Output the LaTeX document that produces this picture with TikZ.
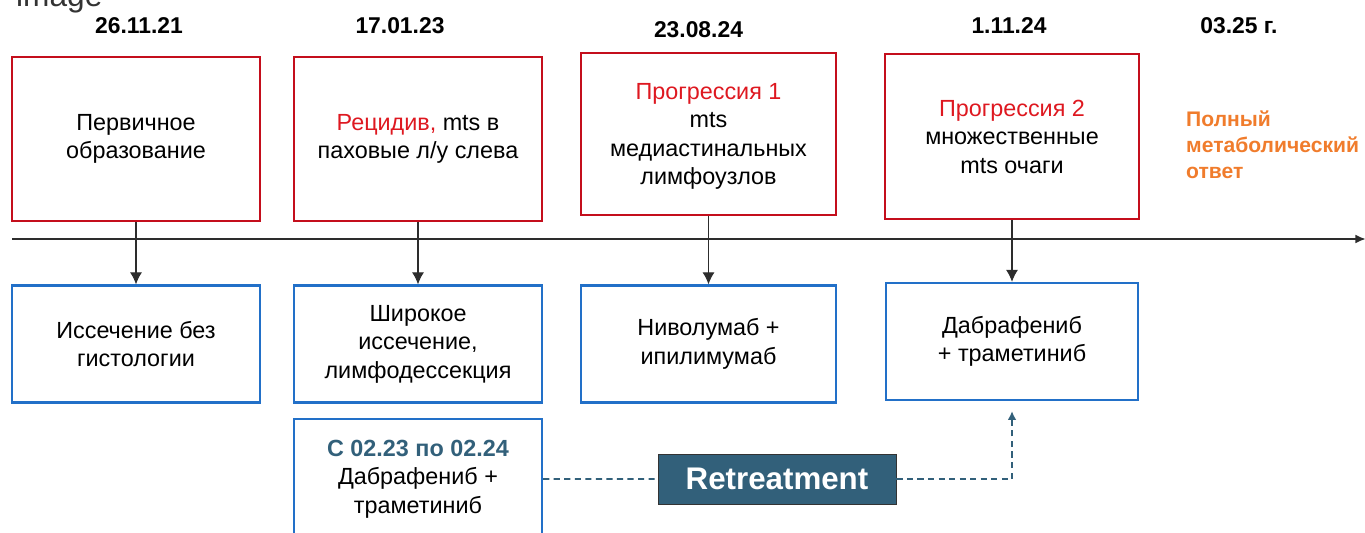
\documentclass[tikz,border=0pt]{standalone}
\usepackage{fontspec}
\setmainfont{Liberation Sans}
\usepackage{tikz}
\usetikzlibrary{shapes.geometric, arrows, arrows.meta}
\definecolor{boxred}{RGB}{196,14,28}
\definecolor{txtred}{RGB}{222,24,32}
\definecolor{boxblue}{RGB}{34,112,200}
\definecolor{retblue}{RGB}{50,96,122}
\definecolor{respond}{RGB}{240,124,44}
\definecolor{lineg}{RGB}{45,45,45}
\tikzstyle{event} = [rectangle, minimum width=4.96cm, minimum height=3.28cm, text centered, align=center, draw=boxred, line width=1.4pt, font=\fontsize{13.3}{16.2}\selectfont]
\tikzstyle{therapy} = [rectangle, minimum width=4.96cm, minimum height=2.34cm, text centered, align=center, draw=boxblue, line width=1.3pt, font=\fontsize{13.3}{16.2}\selectfont]
\tikzstyle{date} = [font=\bfseries\fontsize{13}{15}\selectfont]
\tikzstyle{retreat} = [rectangle, minimum width=4.76cm, minimum height=1cm, text centered, draw=black!80, fill=retblue, text=white, font=\bfseries\fontsize{17.8}{20}\selectfont]
\tikzstyle{arrow} = [-{Latex[length=6.8pt,width=6.8pt]}, draw=lineg, line width=0.6pt]
\tikzstyle{timeline} = [-{Latex[length=6pt,width=5pt]}, line width=1.4pt, draw=lineg]
\tikzstyle{dasharrow} = [retblue, line width=1pt, dash pattern=on 3.5pt off 2.5pt]

\begin{document}
\begin{tikzpicture}[node distance=4.1cm]

  \useasboundingbox (0,0) rectangle (27.3,-10.66);
  \node (img) [anchor=base west, text=black!80, font=\fontsize{18}{20}\selectfont] at (0.2,-0.14) {image};

  \node (d1) [date] at (2.78,-0.52) {26.11.21};
  \node (d2) [date] at (8.0,-0.52) {17.01.23};
  \node (d3) [date] at (13.97,-0.59) {23.08.24};
  \node (d4) [date] at (20.18,-0.52) {1.11.24};
  \node (d5) [date] at (24.78,-0.52) {03.25 г.};

  \node (r1) [event] at (2.72,-2.78) {Первичное\\образование};
  \node (r2) [event] at (8.36,-2.78) {\textcolor{txtred}{Рецидив,} mts в\\паховые л/у слева};
  \node (r3) [event, minimum width=5.1cm, minimum height=3.24cm, text depth=-0.2cm] at (14.17,-2.68) {\textcolor{txtred}{Прогрессия 1}\\mts\\медиастинальных\\лимфоузлов};
  \node (r4) [event, minimum width=5.08cm, minimum height=3.3cm] at (20.24,-2.73) {\textcolor{txtred}{Прогрессия 2}\\множественные\\mts очаги};
  \node (resp) [anchor=west, align=left, text=respond, font=\bfseries\fontsize{12}{14.8}\selectfont] at (23.6,-2.9) {Полный\\метаболический\\ответ};

  \node (b1) [therapy, below of=r1] {Иссечение без\\гистологии};
  \node (b2) [therapy, below of=r2] {Широкое\\иссечение,\\лимфодессекция};
  \node (b3) [therapy, below of=r3, minimum width=5.1cm, yshift=-0.1cm] {Ниволумаб +\\ипилимумаб};
  \node (b4) [therapy, below of=r4, minimum width=5.04cm] {Дабрафениб\\+ траметиниб};
  \node (b5) [therapy, below of=b2, node distance=2.7cm, minimum height=2.4cm] {\textcolor{retblue}{\bfseries С 02.23 по 02.24}\\Дабрафениб +\\траметиниб};
  \node (retreat) [retreat] at (15.54,-9.58) {Retreatment};

  \coordinate (tl0) at (0.24,-4.78);
  \coordinate (tl1) at (27.32,-4.78);
  \draw [timeline] (tl0) -- (tl1);

  \draw [arrow] (r1) -- (b1);
  \draw [arrow] (r2) -- (b2);
  \draw [arrow] (r3.south) -- (r3.south |- b3.north);
  \draw [arrow] (r4) -- (b4);
  \draw [dasharrow] (b5) -- (retreat);
  \draw [dasharrow, -{Latex[length=5pt,width=5pt]}, shorten >=0.2cm] (retreat.east) -| (b4.south);

\end{tikzpicture}
\end{document}
